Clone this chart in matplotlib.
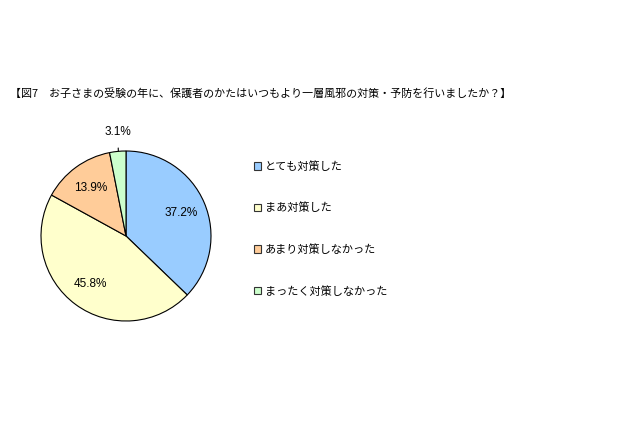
import matplotlib
matplotlib.use("Agg")
import matplotlib.pyplot as plt
from matplotlib.patches import Patch

plt.rcParams['font.family'] = ['Noto Sans CJK JP', 'DejaVu Sans']

# data
title = "【図7\u3000お子さまの受験の年に、保護者のかたはいつもより一層風邪の対策・予防を行いましたか？】"
labels = ["とても対策した", "まあ対策した", "あまり対策しなかった", "まったく対策しなかった"]
values = [37.2, 45.8, 13.9, 3.1]
colors = ["#99CCFF", "#FFFFCC", "#FFCC99", "#CCFFCC"]

W, H = 640, 426
fig = plt.figure(figsize=(W / 100, H / 100), dpi=100)
fig.patch.set_facecolor("white")

fig.text(10 / W, 1 - 93 / H, title, fontsize=7.9, va="center", ha="left")

# pie: centre (126, 236) px, radius 85 px
cx, cy, r = 126, 236, 85
ax = fig.add_axes([(cx - r) / W, (H - cy - r) / H, 2 * r / W, 2 * r / H])


def pct(p):
    return "" if p < 5 else "%.1f%%" % p


num_font = ['Liberation Sans', 'DejaVu Sans']
wedges, texts, autotexts = ax.pie(values, colors=colors, startangle=90, counterclock=False,
                                  autopct=pct, pctdistance=0.7,
                                  wedgeprops=dict(edgecolor="black", linewidth=0.8),
                                  textprops=dict(fontsize=8.5, family=num_font))
ax.set_xlim(-1, 1)
ax.set_ylim(-1, 1)
ax.set_aspect("equal")

# small slice label with leader line
ax.annotate("%.1f%%" % values[3], xy=(-0.09, 1.0), xytext=(-0.1, 1.22),
            ha="center", va="center", fontsize=8.5, family=num_font,
            arrowprops=dict(arrowstyle="-", color="black", lw=0.8, shrinkB=0, shrinkA=5),
            annotation_clip=False)

handles = [Patch(facecolor=c, edgecolor="#333333", linewidth=0.8) for c in colors]
fig.legend(handles, labels, loc="upper left", bbox_to_anchor=(254 / W, 1 - 161 / H),
           frameon=False, fontsize=8.0, handlelength=0.65, handleheight=0.65,
           handletextpad=0.3, labelspacing=2.77, borderaxespad=0, borderpad=0)

fig.savefig("out.png", dpi=100)
